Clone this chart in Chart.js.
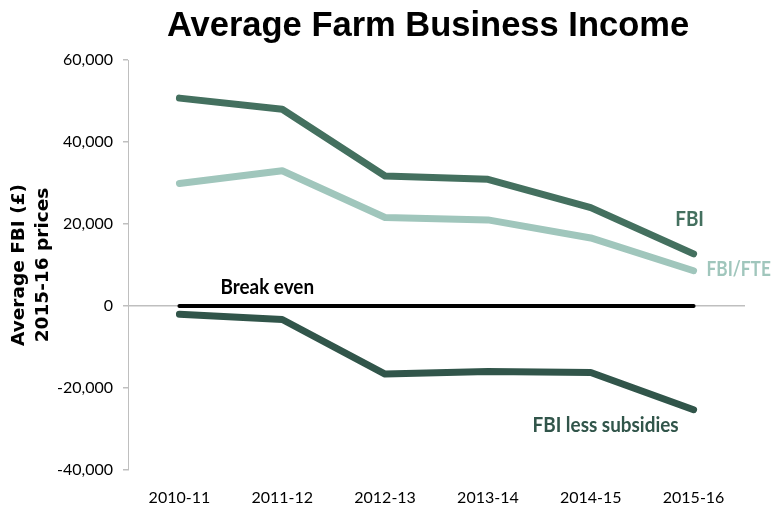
<!DOCTYPE html>
<html>
<head>
<meta charset="utf-8">
<script src="https://cdn.jsdelivr.net/npm/chart.js@4"></script>
<style>
  html, body { margin: 0; padding: 0; background: #fff; }
  #wrap { width: 772px; height: 512px; }
</style>
</head>
<body>
<div id="wrap"><canvas id="fbiChart"></canvas></div>
<script>
const categories = ['2010-11', '2011-12', '2012-13', '2013-14', '2014-15', '2015-16'];
const fbi = [50700, 48000, 31700, 30900, 24000, 12700];
const fbiPerFte = [29900, 33000, 21600, 21000, 16600, 8600];
const fbiLessSubsidies = [-2000, -3300, -16600, -16000, -16200, -25300];
const breakEven = [0, 0, 0, 0, 0, 0];
const yMin = -40000;
const yMax = 60000;
const yStep = 20000;

const dark = '#44705f';
const light = '#a0c6bc';
const darkest = '#31554a';
const axisGrey = '#bfbfbf';

// text labels next to the lines, anchored on a data point
const lineLabels = [
  { text: 'FBI', ds: 0, idx: 5, dx: -4, dy: -35, align: 'center', color: dark, sx: 0.9 },
  { text: 'FBI/FTE', ds: 1, idx: 5, dx: 13, dy: -2, align: 'left', color: light, sx: 0.82 },
  { text: 'Break even', ds: 3, idx: 0, dx: 41, dy: -19, align: 'left', color: '#000', sx: 0.9 },
  { text: 'FBI less subsidies', ds: 2, idx: 5, dx: -15, dy: 16, align: 'right', color: darkest, sx: 0.9 }
];

const labelPlugin = {
  id: 'lineLabels',
  afterDatasetsDraw(chart) {
    const ctx = chart.ctx;
    lineLabels.forEach(l => {
      const pt = chart.getDatasetMeta(l.ds).data[l.idx];
      ctx.save();
      ctx.translate(pt.x + l.dx, pt.y + l.dy);
      ctx.scale(l.sx, 1);
      ctx.font = 'bold 21px Lato';
      ctx.fillStyle = l.color;
      ctx.textAlign = l.align;
      ctx.textBaseline = 'middle';
      ctx.fillText(l.text, 0, 0);
      ctx.restore();
    });

    const area = chart.chartArea;

    // main title, centred a little right of the canvas middle
    ctx.save();
    ctx.font = 'bold 34.5px "Liberation Sans", Arial, sans-serif';
    ctx.fillStyle = '#000';
    ctx.textAlign = 'center';
    ctx.textBaseline = 'middle';
    ctx.fillText('Average Farm Business Income', 428, 26);
    ctx.restore();

    // two-line y axis title
    const cy = (area.top + area.bottom) / 2;
    ctx.save();
    ctx.font = 'bold 18.5px "DejaVu Sans"';
    ctx.fillStyle = '#000';
    ctx.textAlign = 'center';
    ctx.textBaseline = 'middle';
    ctx.translate(19, cy);
    ctx.rotate(-Math.PI / 2);
    ctx.fillText('Average FBI (£)', 0, 0);
    ctx.fillText('2015-16 prices', 0, 24);
    ctx.restore();
  }
};

function lineSet(data, color, width) {
  return {
    data: data,
    borderColor: color,
    borderWidth: width,
    borderCapStyle: 'round',
    borderJoinStyle: 'round',
    pointRadius: 0,
    tension: 0,
    fill: false
  };
}

const ctx = document.getElementById('fbiChart').getContext('2d');
new Chart(ctx, {
  type: 'line',
  data: {
    labels: categories,
    datasets: [
      lineSet(fbi, dark, 7),
      lineSet(fbiPerFte, light, 7),
      lineSet(fbiLessSubsidies, darkest, 7),
      lineSet(breakEven, '#000', 4)
    ]
  },
  options: {
    responsive: true,
    maintainAspectRatio: false,
    animation: false,
    layout: { padding: { left: 0, right: 27, top: 60, bottom: 0 } },
    plugins: {
      legend: { display: false },
      tooltip: { enabled: false },
      title: { display: false }
    },
    scales: {
      x: {
        offset: true,
        grid: { display: false },
        border: { display: false },
        ticks: {
          color: '#000',
          font: { family: 'Lato', size: 16 },
          padding: 10,
          maxRotation: 0
        },
        afterFit(s) { s.height = 42; }
      },
      y: {
        min: yMin,
        max: yMax,
        border: { display: true, color: axisGrey, width: 1 },
        grid: {
          color: c => (c.tick && c.tick.value === 0 ? axisGrey : 'rgba(0,0,0,0)'),
          tickColor: axisGrey,
          tickLength: 5,
          lineWidth: 1.5
        },
        ticks: {
          stepSize: yStep,
          color: '#000',
          font: { family: 'Lato', size: 16 },
          padding: 10,
          callback: v => v.toLocaleString('en-GB')
        },
        afterFit(s) { s.width = 128; }
      }
    }
  },
  plugins: [labelPlugin]
});
</script>
</body>
</html>
